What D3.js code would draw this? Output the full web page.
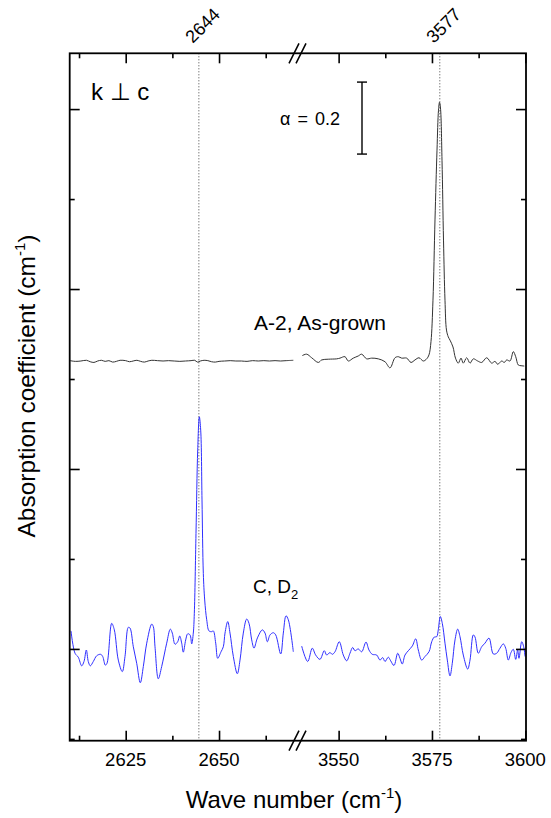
<!DOCTYPE html>
<html>
<head>
<meta charset="utf-8">
<script src="https://cdn.jsdelivr.net/npm/d3@7"></script>
<style>
  body { margin: 0; background: #fff; }
  svg { display: block; }
  text { font-family: "Liberation Sans", Arial, sans-serif; fill: #000; }
</style>
</head>
<body>
<svg id="chart" width="551" height="818"></svg>
<script>
// ---------------- DATA ----------------
const leftDomain = [2610, 2670];
const rightDomain = [3540, 3600];
const yDomain = [-0.255, 1.655];

const leftMajorTicks = [2625, 2650];
const leftMinorTicks = [2612.5, 2637.5, 2662.5];
const rightMajorTicks = [3550, 3575, 3600];
const rightMinorTicks = [3562.5, 3587.5];
const yMajorTicks = [0, 0.5, 1.0, 1.5];
const yMinorTicks = [-0.25, 0.25, 0.75, 1.25];

const peakPositions = [2644.6, 3577.1];
const peakLabels = ["2644", "3577"];

const scaleBarValue = 0.2;
const scaleBarTop = 1.575;

// Sample A-2, As-grown (black), [wave number, absorption]
const blackLeft = [
  [2610.1,0.801],[2611.5,0.799],[2613,0.800],[2614.5,0.802],[2615.5,0.798],[2616.5,0.796],
  [2617.5,0.800],[2618.5,0.802],[2619.5,0.799],[2620.5,0.801],[2621.5,0.797],[2622.5,0.799],
  [2623.5,0.802],[2625,0.801],[2626,0.798],[2627,0.800],[2628,0.802],[2629,0.799],[2630,0.797],
  [2631,0.800],[2632,0.802],[2633.5,0.801],[2635,0.800],[2636.5,0.801],[2638,0.800],[2639.5,0.799],
  [2641,0.800],[2642.5,0.801],[2643.5,0.802],[2644.2,0.797],[2645,0.800],[2646,0.802],[2647,0.801],
  [2648,0.798],[2649,0.797],[2650,0.799],[2651.5,0.800],[2653,0.801],[2654.5,0.800],[2656,0.800],
  [2657.5,0.799],[2659,0.801],[2660.5,0.800],[2662,0.801],[2663.5,0.800],[2665,0.801],[2666.5,0.800],
  [2668,0.801],[2669.9,0.802]
];
const blackRight = [
  [3540.26,0.815],[3541.44,0.819],[3542.78,0.809],[3544.55,0.796],[3545.46,0.803],[3547.23,0.805],
  [3549.48,0.806],[3550.36,0.808],[3551.70,0.812],[3552.58,0.800],[3553.92,0.808],[3555.26,0.814],
  [3556.17,0.819],[3557.51,0.806],[3558.85,0.808],[3560.62,0.806],[3562.42,0.798],[3563.76,0.781],
  [3565.10,0.809],[3565.98,0.812],[3566.89,0.808],[3568.23,0.808],[3569.38,0.796],[3570.45,0.803],
  [3571.52,0.809],[3572.68,0.800],[3573.59,0.806],[3574.20,0.817],[3574.74,0.854],[3575.27,0.969],
  [3575.81,1.192],[3576.35,1.386],[3576.75,1.497],[3577.02,1.519],[3577.28,1.503],[3577.69,1.358],
  [3578.09,1.136],[3578.49,0.969],[3578.89,0.886],[3579.37,0.867],[3579.83,0.858],[3580.63,0.839],
  [3581.30,0.808],[3582.05,0.794],[3582.78,0.808],[3583.39,0.794],[3584.30,0.809],[3585.19,0.794],
  [3586.07,0.806],[3587.25,0.800],[3588.32,0.796],[3589.66,0.809],[3591.00,0.794],[3591.88,0.799],
  [3592.61,0.791],[3593.68,0.800],[3594.37,0.796],[3595.02,0.803],[3595.90,0.800],[3596.79,0.826],
  [3597.43,0.812],[3598.12,0.789],[3598.85,0.787],[3599.73,0.786]
];
// Sample C, D2 (blue)
const blueLeft = [
  [2610.35,0.050],[2611.42,-0.012],[2612.30,-0.023],[2613.21,-0.047],[2613.83,-0.035],[2614.45,-0.003],
  [2614.98,-0.035],[2615.52,-0.047],[2616.32,-0.035],[2617.23,-0.019],[2618.30,-0.015],[2618.84,-0.021],
  [2619.54,-0.045],[2619.99,-0.040],[2621.25,0.071],[2621.95,0.053],[2623.02,-0.031],[2624.09,-0.063],
  [2624.81,-0.021],[2625.70,0.060],[2626.15,0.058],[2627.04,0.006],[2627.95,-0.040],[2628.91,-0.094],
  [2629.72,-0.049],[2630.63,0.016],[2631.97,0.069],[2632.40,0.062],[2632.85,0.006],[2633.73,-0.083],
  [2634.64,-0.049],[2635.98,0.016],[2636.95,0.055],[2637.48,0.044],[2638.21,0.013],[2638.93,0.020],
  [2639.47,0.036],[2640.00,0.016],[2640.43,-0.009],[2641.07,0.025],[2641.61,0.042],[2642.23,0.039],
  [2642.68,0.014],[2643.11,0.044],[2643.38,0.099],[2643.83,0.321],[2644.29,0.553],[2644.72,0.645],
  [2645.09,0.608],[2645.44,0.414],[2645.79,0.210],[2646.16,0.136],[2646.70,0.081],[2647.32,0.050],
  [2648.04,0.048],[2648.47,0.050],[2649.11,0.016],[2649.65,-0.026],[2650.53,-0.008],[2651.15,0.006],
  [2651.60,0.044],[2652.33,0.076],[2652.94,0.044],[2653.83,-0.021],[2654.90,-0.069],[2655.62,-0.031],
  [2656.50,0.044],[2657.41,0.083],[2658.03,0.071],[2658.75,0.025],[2659.37,0.002],[2660.09,0.025],
  [2660.52,0.036],[2661.59,0.053],[2662.32,0.044],[2662.93,0.020],[2663.66,0.039],[2664.54,0.045],
  [2665.18,0.039],[2666.52,-0.014],[2667.22,0.044],[2667.94,0.092],[2668.56,0.081],[2669.90,-0.008]
];
const blueRight = [
  [3540.10,0.008],[3541.71,-0.035],[3542.94,0.002],[3543.85,-0.017],[3545.00,-0.029],[3546.16,-0.005],
  [3546.80,-0.017],[3547.68,-0.010],[3548.30,-0.015],[3549.02,-0.008],[3550.17,0.020],[3551.25,-0.017],
  [3552.16,-0.033],[3553.04,-0.012],[3553.76,0.004],[3554.38,-0.005],[3555.26,0.000],[3556.17,-0.008],
  [3557.33,0.019],[3558.13,-0.003],[3559.01,-0.015],[3560.19,-0.017],[3561.08,-0.031],[3561.80,-0.024],
  [3562.42,-0.035],[3563.30,-0.023],[3563.94,-0.033],[3564.83,-0.046],[3565.82,-0.012],[3566.43,-0.026],
  [3567.05,-0.042],[3567.77,-0.017],[3568.66,-0.005],[3569.73,0.008],[3570.64,0.028],[3571.34,-0.003],
  [3572.25,-0.031],[3573.13,-0.021],[3574.20,-0.008],[3574.93,0.020],[3575.62,0.033],[3576.27,0.034],
  [3576.69,0.053],[3577.23,0.090],[3577.77,0.071],[3578.49,0.016],[3579.11,-0.031],[3579.83,-0.075],
  [3580.44,-0.040],[3581.17,0.025],[3581.89,0.055],[3582.51,0.034],[3583.39,-0.017],[3584.57,-0.056],
  [3585.19,-0.031],[3586.07,0.039],[3586.53,0.033],[3587.41,-0.012],[3588.32,0.006],[3589.20,0.016],
  [3590.28,0.030],[3591.43,-0.014],[3592.34,-0.012],[3593.22,0.002],[3594.11,0.014],[3594.75,0.002],
  [3595.45,-0.031],[3596.17,-0.010],[3596.79,-0.001],[3597.43,-0.029],[3597.96,-0.003],[3598.31,-0.026],
  [3599.04,0.020],[3599.57,0.006],[3599.92,-0.021]
];

// ---------------- LAYOUT ----------------
const svg = d3.select("#chart");
const plotL = 69.7, plotR = 526, plotT = 53.3, plotB = 740.7;
const leftRange = [69.7, 293.7];
const rightRange = [301.3, 525.3];

const xL = d3.scaleLinear().domain(leftDomain).range(leftRange);
const xR = d3.scaleLinear().domain(rightDomain).range(rightRange);
const y = d3.scaleLinear().domain(yDomain).range([plotB, plotT]);

svg.append("rect").attr("width", 551).attr("height", 818).attr("fill", "#fff");

// dotted peak lines
const xPeak = v => v < 3000 ? xL(v) : xR(v);
svg.selectAll("line.peak").data(peakPositions).enter().append("line")
  .attr("class", "peak")
  .attr("x1", d => xPeak(d)).attr("x2", d => xPeak(d))
  .attr("y1", plotT).attr("y2", plotB)
  .attr("stroke", "#444").attr("stroke-width", 1).attr("stroke-dasharray", "1,2");

// traces
const line = (xs) => d3.line().x(d => xs(d[0])).y(d => y(d[1])).curve(d3.curveCatmullRom.alpha(0.5));
const traces = [
  [blackLeft, xL, "#333333"], [blackRight, xR, "#333333"],
  [blueLeft, xL, "#2f2fff"], [blueRight, xR, "#2f2fff"]
];
traces.forEach(([data, xs, col]) => {
  svg.append("path").datum(data).attr("d", line(xs))
    .attr("fill", "none").attr("stroke", col).attr("stroke-width", 1);
});

// axes (ticks pointing inward)
function xAxes(gen, ty, inward) {
  [[xL, leftMajorTicks, 10], [xL, leftMinorTicks, 5], [xR, rightMajorTicks, 10], [xR, rightMinorTicks, 5]]
    .forEach(([sc, tv, len]) => {
      const g = svg.append("g").attr("transform", `translate(0,${ty})`)
        .call(gen(sc).tickValues(tv).tickSizeInner(inward * len).tickSizeOuter(0).tickFormat(""));
      g.select(".domain").remove();
      g.selectAll("line").attr("stroke", "#000").attr("stroke-width", 1.6);
    });
}
xAxes(d3.axisBottom, plotB, -1);
xAxes(d3.axisTop, plotT, -1);

function yAxes(gen, tx) {
  [[yMajorTicks, 10], [yMinorTicks, 5]].forEach(([tv, len]) => {
    const g = svg.append("g").attr("transform", `translate(${tx},0)`)
      .call(gen(y).tickValues(tv).tickSizeInner(-len).tickSizeOuter(0).tickFormat(""));
    g.select(".domain").remove();
    g.selectAll("line").attr("stroke", "#000").attr("stroke-width", 1.6);
  });
}
yAxes(d3.axisLeft, plotL);
yAxes(d3.axisRight, plotR);

// frame
svg.append("rect").attr("x", plotL).attr("y", plotT)
  .attr("width", plotR - plotL).attr("height", plotB - plotT)
  .attr("fill", "none").attr("stroke", "#000").attr("stroke-width", 1.8);

// break marks
const breakX = (leftRange[1] + rightRange[0]) / 2;
[plotT, plotB].forEach(yy => {
  [-3.5, 3.5].forEach(dx => {
    svg.append("line")
      .attr("x1", breakX + dx - 5).attr("y1", yy + 10)
      .attr("x2", breakX + dx + 5).attr("y2", yy - 10)
      .attr("stroke", "#000").attr("stroke-width", 1.6);
  });
});

// bottom tick labels
const bottomLabels = [
  ...leftMajorTicks.map(v => [xL(v), String(v)]),
  ...rightMajorTicks.map(v => [xR(v), String(v)])
];
svg.selectAll("text.xt").data(bottomLabels).enter().append("text")
  .attr("class", "xt").attr("x", d => d[0]).attr("y", 766)
  .attr("text-anchor", "middle").attr("font-size", 18.5).text(d => d[1]);

// axis titles
const xt = svg.append("text").attr("x", 294).attr("y", 808).attr("text-anchor", "middle").attr("font-size", 24);
xt.append("tspan").text("Wave number (cm");
xt.append("tspan").attr("font-size", 15).attr("dy", -10).text("-1");
xt.append("tspan").attr("dy", 10).text(")");

const yt = svg.append("text").attr("transform", "translate(35,386) rotate(-90)")
  .attr("text-anchor", "middle").attr("font-size", 24.5);
yt.append("tspan").text("Absorption coefficient (cm");
yt.append("tspan").attr("font-size", 15).attr("dy", -10).text("-1");
yt.append("tspan").attr("dy", 10).text(")");

// peak labels (rotated)
svg.selectAll("text.pk").data(peakPositions).enter().append("text")
  .attr("class", "pk")
  .attr("transform", (d, i) => `translate(${xPeak(d) - 6},${44}) rotate(-45)`)
  .attr("font-size", 18).text((d, i) => peakLabels[i]);

// annotations
svg.append("text").attr("x", 91).attr("y", 100).attr("font-size", 24).text("k \u22A5 c");
svg.append("text").attr("x", 320).attr("y", 330).attr("text-anchor", "middle").attr("font-size", 21).text("A-2, As-grown");
const cd = svg.append("text").attr("x", 253).attr("y", 593).attr("font-size", 19);
cd.append("tspan").text("C, D");
cd.append("tspan").attr("font-size", 13).attr("dy", 6).text("2");

// scale bar
const sbX = 362;
const sbTop = y(scaleBarTop), sbBot = y(scaleBarTop - scaleBarValue);
svg.append("line").attr("x1", sbX).attr("x2", sbX).attr("y1", sbTop).attr("y2", sbBot).attr("stroke", "#000").attr("stroke-width", 1.4);
[sbTop, sbBot].forEach(yy => svg.append("line").attr("x1", sbX - 5).attr("x2", sbX + 5).attr("y1", yy).attr("y2", yy).attr("stroke", "#000").attr("stroke-width", 1.4));
svg.append("text").attr("x", 280).attr("y", 125).attr("font-size", 18).attr("word-spacing", 2).text("\u03B1 = " + scaleBarValue);
</script>
</body>
</html>
